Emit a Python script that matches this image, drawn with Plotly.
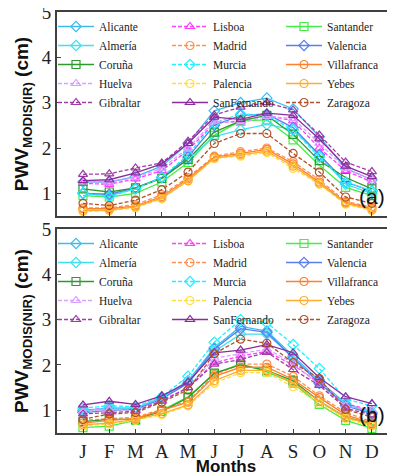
import plotly.graph_objects as go

months = ["J", "F", "M", "A", "M", "J", "J", "A", "S", "O", "N", "D"]
month_pos = list(range(1, 13))

# legend order (row-major so the 3-column legend reads column-wise like the original)
stations = ["Alicante", "Lisboa", "Santander",
            "Almería", "Madrid", "Valencia",
            "Coruña", "Murcia", "Villafranca",
            "Huelva", "Palencia", "Yebes",
            "Gibraltar", "SanFernando", "Zaragoza"]

# PWV MODIS(IR) (cm)
ir_alicante = [1.25, 1.25, 1.37, 1.60, 2.10, 2.82, 3.00, 3.10, 2.86, 2.25, 1.55, 1.30]
ir_almeria = [1.00, 0.95, 1.10, 1.35, 1.75, 2.25, 2.40, 2.52, 2.40, 1.85, 1.20, 1.00]
ir_coruna = [1.10, 1.03, 1.12, 1.33, 1.75, 2.35, 2.60, 2.72, 2.30, 1.72, 1.35, 1.10]
ir_huelva = [1.25, 1.25, 1.35, 1.55, 2.00, 2.60, 2.55, 2.70, 2.65, 2.10, 1.55, 1.30]
ir_gibraltar = [1.42, 1.43, 1.56, 1.67, 2.15, 2.73, 2.90, 3.00, 2.84, 2.29, 1.69, 1.48]
ir_lisboa = [1.22, 1.20, 1.32, 1.50, 1.95, 2.55, 2.60, 2.72, 2.60, 2.00, 1.50, 1.25]
ir_madrid = [0.68, 0.68, 0.75, 0.97, 1.35, 1.82, 1.92, 2.00, 1.70, 1.30, 0.82, 0.70]
ir_murcia = [1.00, 0.93, 1.10, 1.35, 1.85, 2.55, 2.75, 2.72, 2.40, 1.80, 1.25, 1.05]
ir_palencia = [0.60, 0.62, 0.68, 0.88, 1.27, 1.77, 1.82, 1.90, 1.55, 1.20, 0.76, 0.62]
ir_sanfernando = [1.28, 1.30, 1.45, 1.65, 2.10, 2.68, 2.63, 2.77, 2.72, 2.20, 1.60, 1.37]
ir_santander = [0.95, 0.92, 1.00, 1.25, 1.68, 2.28, 2.60, 2.62, 2.18, 1.62, 1.13, 0.95]
ir_valencia = [1.00, 0.98, 1.12, 1.35, 1.80, 2.50, 2.72, 2.75, 2.45, 1.85, 1.25, 1.05]
ir_villafranca = [0.66, 0.66, 0.72, 0.93, 1.32, 1.80, 1.88, 1.97, 1.65, 1.25, 0.80, 0.67]
ir_yebes = [0.62, 0.63, 0.70, 0.90, 1.28, 1.78, 1.85, 1.93, 1.60, 1.22, 0.78, 0.64]
ir_zaragoza = [0.78, 0.73, 0.85, 1.08, 1.47, 2.10, 2.32, 2.32, 1.88, 1.47, 0.92, 0.78]

# PWV MODIS(NIR) (cm)
nir_alicante = [1.00, 1.05, 1.05, 1.28, 1.65, 2.38, 2.85, 2.75, 2.20, 1.65, 1.15, 0.95]
nir_almeria = [0.98, 1.05, 1.05, 1.28, 1.60, 2.30, 2.68, 2.68, 2.18, 1.60, 1.12, 0.95]
nir_coruna = [0.75, 0.80, 0.80, 0.98, 1.28, 1.82, 2.00, 1.88, 1.65, 1.20, 0.85, 0.70]
nir_huelva = [0.98, 1.02, 1.00, 1.20, 1.50, 2.15, 2.25, 2.35, 2.05, 1.55, 1.10, 1.00]
nir_gibraltar = [0.92, 0.95, 0.98, 1.20, 1.50, 2.02, 2.12, 2.28, 1.90, 1.55, 1.05, 0.90]
nir_lisboa = [1.00, 1.05, 1.00, 1.22, 1.50, 2.05, 2.20, 2.30, 2.00, 1.60, 1.15, 1.00]
nir_madrid = [0.78, 0.82, 0.85, 1.02, 1.20, 1.78, 2.02, 2.02, 1.75, 1.32, 0.95, 0.75]
nir_murcia = [1.05, 1.10, 1.08, 1.30, 1.75, 2.50, 3.00, 2.93, 2.45, 1.92, 1.25, 1.10]
nir_palencia = [0.65, 0.70, 0.78, 0.90, 1.10, 1.60, 1.83, 1.83, 1.52, 1.15, 0.82, 0.65]
nir_sanfernando = [1.12, 1.20, 1.13, 1.32, 1.62, 2.27, 2.33, 2.45, 2.27, 1.72, 1.30, 1.15]
nir_santander = [0.62, 0.65, 0.78, 1.00, 1.30, 1.80, 2.03, 1.85, 1.60, 1.13, 0.78, 0.60]
nir_valencia = [0.95, 1.00, 1.02, 1.25, 1.60, 2.35, 2.80, 2.72, 2.15, 1.60, 1.10, 0.92]
nir_villafranca = [0.72, 0.78, 0.82, 1.00, 1.18, 1.75, 1.95, 1.95, 1.68, 1.28, 0.90, 0.72]
nir_yebes = [0.68, 0.72, 0.80, 0.93, 1.12, 1.65, 1.88, 1.88, 1.60, 1.20, 0.85, 0.68]
nir_zaragoza = [0.80, 0.92, 0.95, 1.18, 1.45, 2.25, 2.57, 2.48, 2.05, 1.70, 1.02, 0.85]

ir = {"Alicante": ir_alicante, "Almería": ir_almeria, "Coruña": ir_coruna, "Huelva": ir_huelva,
      "Gibraltar": ir_gibraltar, "Lisboa": ir_lisboa, "Madrid": ir_madrid, "Murcia": ir_murcia,
      "Palencia": ir_palencia, "SanFernando": ir_sanfernando, "Santander": ir_santander,
      "Valencia": ir_valencia, "Villafranca": ir_villafranca, "Yebes": ir_yebes, "Zaragoza": ir_zaragoza}
nir = {"Alicante": nir_alicante, "Almería": nir_almeria, "Coruña": nir_coruna, "Huelva": nir_huelva,
       "Gibraltar": nir_gibraltar, "Lisboa": nir_lisboa, "Madrid": nir_madrid, "Murcia": nir_murcia,
       "Palencia": nir_palencia, "SanFernando": nir_sanfernando, "Santander": nir_santander,
       "Valencia": nir_valencia, "Villafranca": nir_villafranca, "Yebes": nir_yebes, "Zaragoza": nir_zaragoza}

style = {
    "Alicante": ("#3cbcf0", "solid", "diamond-open"),
    "Almería": ("#40e0f0", "solid", "diamond-open"),
    "Coruña": ("#2e9a2e", "solid", "square-open"),
    "Huelva": ("#d8a0ff", "4px,2px", "triangle-up-open"),
    "Gibraltar": ("#a03ca8", "4px,2px", "triangle-up-open"),
    "Lisboa": ("#ff40ff", "4px,2px", "triangle-up-open"),
    "Madrid": ("#ff9050", "4px,2px", "circle-open"),
    "Murcia": ("#20f0ff", "4px,2px", "diamond-open"),
    "Palencia": ("#ffdd40", "4px,2px", "circle-open"),
    "SanFernando": ("#8c2c9c", "solid", "triangle-up-open"),
    "Santander": ("#44ee44", "solid", "square-open"),
    "Valencia": ("#5a7ef0", "solid", "diamond-open"),
    "Villafranca": ("#ff7f2a", "solid", "circle-open"),
    "Yebes": ("#ffac30", "solid", "circle-open"),
    "Zaragoza": ("#b0522a", "4px,2px", "circle-open"),
}

SERIF = "Liberation Serif, Times New Roman, DejaVu Serif, serif"
SANS = "Liberation Sans, Arial, sans-serif"

fig = go.Figure()
for panel, data, xa, ya, lg in [("ir", ir, "x", "y", "legend"), ("nir", nir, "x2", "y2", "legend2")]:
    for s in stations:
        c, d, m = style[s]
        fig.add_trace(go.Scatter(
            x=month_pos, y=data[s], name=s, mode="lines+markers",
            line=dict(color=c, width=1.3, dash=d),
            marker=dict(symbol=m, size=8, color=c, line=dict(width=1.2, color=c)),
            xaxis=xa, yaxis=ya, legend=lg,
        ))

axis_line = dict(showline=True, linecolor="#404040", linewidth=2, mirror=True,
                 showgrid=False, zeroline=False, automargin=False)
tickfont = dict(family=SERIF, size=19, color="#222222")

x_common = dict(range=[0.01, 12.88], tickvals=month_pos, ticktext=months,
                ticks="inside", ticklen=4, tickcolor="#404040", tickwidth=1, **axis_line)
y_common = dict(range=[0.5, 5.0], tickvals=[1, 2, 3, 4, 5], ticks="inside", ticklen=4,
                tickcolor="#404040", tickwidth=1, tickfont=tickfont,
                ticklabeloverflow="allow", **axis_line)

title_font = dict(family=SANS, size=19, color="#111111", weight="bold")
legend_font = dict(family=SERIF, size=11.5, color="#222222")

fig.update_layout(
    width=387, height=468,
    margin=dict(l=49, r=0, t=4, b=43),
    paper_bgcolor="white", plot_bgcolor="white",
    showlegend=True,
    xaxis=dict(domain=[0.0, 1.0], anchor="y", showticklabels=False, **x_common),
    yaxis=dict(domain=[0.5154, 1.0], anchor="x",
               title=dict(text="PWV<sub>MODIS(IR)</sub> (cm)", font=title_font, standoff=8),
               **y_common),
    xaxis2=dict(domain=[0.0, 1.0], anchor="y2", tickfont=tickfont,
                title=dict(text="Months", font=dict(family=SANS, size=17,
                                                    color="#111111", weight="bold"), standoff=2),
                **x_common),
    yaxis2=dict(domain=[0.0, 0.4846], anchor="x2",
                title=dict(text="PWV<sub>MODIS(NIR)</sub> (cm)", font=title_font, standoff=8),
                **y_common),
    legend=dict(orientation="h", x=0.005, y=1.0, xanchor="left", yanchor="top",
                entrywidth=63, entrywidthmode="pixels", bgcolor="rgba(0,0,0,0)",
                font=legend_font, tracegroupgap=0, itemwidth=36),
    legend2=dict(orientation="h", x=0.005, y=0.4846, xanchor="left", yanchor="top",
                 entrywidth=63, entrywidthmode="pixels", bgcolor="rgba(0,0,0,0)",
                 font=legend_font, tracegroupgap=0, itemwidth=36),
    annotations=[
        dict(text="(a)", x=0.976, y=0.5606, xref="paper", yref="paper", xanchor="right",
             yanchor="middle", showarrow=False,
             font=dict(family=SANS, size=21, color="#111111")),
        dict(text="(b)", x=0.976, y=0.0428, xref="paper", yref="paper", xanchor="right",
             yanchor="middle", showarrow=False,
             font=dict(family=SANS, size=21, color="#111111")),
    ],
)

fig.write_html("out.html")
